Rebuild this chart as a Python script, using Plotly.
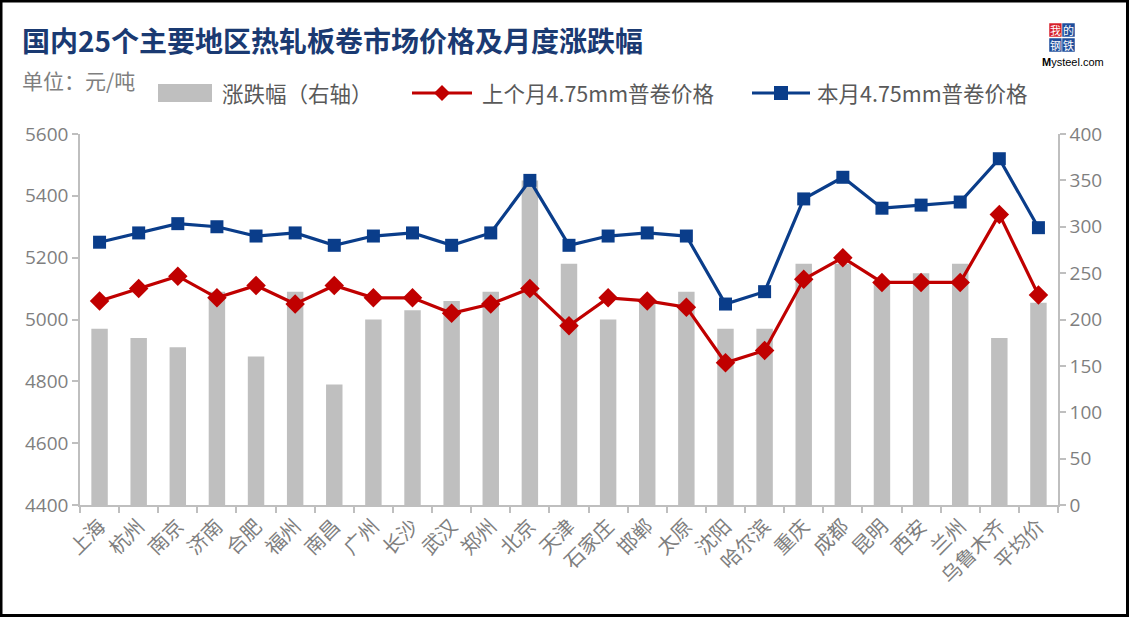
import plotly.graph_objects as go

# ---------------- data ----------------
cities = ["上海", "杭州", "南京", "济南", "合肥", "福州", "南昌", "广州", "长沙", "武汉",
          "郑州", "北京", "天津", "石家庄", "邯郸", "太原", "沈阳", "哈尔滨", "重庆", "成都",
          "昆明", "西安", "兰州", "乌鲁木齐", "平均价"]
last_month = [5060, 5100, 5140, 5070, 5110, 5050, 5110, 5070, 5070, 5020,
              5050, 5100, 4980, 5070, 5060, 5040, 4860, 4900, 5130, 5200,
              5120, 5120, 5120, 5340, 5079]
this_month = [5250, 5280, 5310, 5300, 5270, 5280, 5240, 5270, 5280, 5240,
              5280, 5450, 5240, 5270, 5280, 5270, 5050, 5090, 5390, 5460,
              5360, 5370, 5380, 5520, 5297]
change = [190, 180, 170, 230, 160, 230, 130, 200, 210, 220,
          230, 350, 260, 200, 220, 230, 190, 190, 260, 260,
          240, 250, 260, 180, 218]
left_ticks = [4400, 4600, 4800, 5000, 5200, 5400, 5600]
right_ticks = [0, 50, 100, 150, 200, 250, 300, 350, 400]

# ---------------- styles ----------------
W, H = 1129, 618
ML, MR, MT, MB = 80, 71, 134, 113
PW, PH = W - ML - MR, H - MT - MB
GRAY_TXT = "#7F7F7F"
AXIS = "#BFBFBF"
RED = "#C00000"
BLUE = "#0A3D8A"
BAR = "#BFBFBF"
FONT = "Noto Sans CJK SC"
NUMFONT = "Open Sans"


def px(x):
    return (x - ML) / PW


def py(y):
    return (H - MB - y) / PH


fig = go.Figure()

fig.add_trace(go.Bar(
    x=cities, y=change, yaxis="y", marker=dict(color=BAR, line=dict(width=0)),
    width=0.42, name="涨跌幅（右轴）", showlegend=False))

fig.add_trace(go.Scatter(
    x=cities, y=last_month, yaxis="y2", mode="lines+markers",
    line=dict(color=RED, width=3.2),
    marker=dict(symbol="diamond", size=15, color=RED),
    name="上个月4.75mm普卷价格", showlegend=False))

fig.add_trace(go.Scatter(
    x=cities, y=this_month, yaxis="y2", mode="lines+markers",
    line=dict(color=BLUE, width=3.2),
    marker=dict(symbol="square", size=13, color=BLUE),
    name="本月4.75mm普卷价格", showlegend=False))

fig.update_layout(
    width=W, height=H,
    margin=dict(l=ML, r=MR, t=MT, b=MB, autoexpand=False),
    paper_bgcolor="white", plot_bgcolor="white",
    bargap=0.5,
    xaxis=dict(
        type="category", showgrid=False, showline=True, linecolor=AXIS, linewidth=1.5,
        ticks="outside", tickson="boundaries", ticklen=6, tickcolor=AXIS, tickwidth=1.5,
        tickangle=-45, tickfont=dict(family=FONT, size=20, color=GRAY_TXT),
        range=[-0.5, len(cities) - 0.5], zeroline=False),
    yaxis=dict(
        side="right", range=[0, 400], tickvals=right_ticks, showgrid=False,
        showline=True, linecolor=AXIS, linewidth=1.5, ticks="outside", ticklen=6,
        tickcolor=AXIS, tickwidth=1.5, zeroline=False,
        tickfont=dict(family=NUMFONT, size=19, color=GRAY_TXT)),
    yaxis2=dict(
        overlaying="y", side="left", range=[4400, 5600], tickvals=left_ticks,
        showgrid=False, showline=True, linecolor=AXIS, linewidth=1.5, ticks="outside",
        ticklen=6, tickcolor=AXIS, tickwidth=1.5, zeroline=False,
        tickfont=dict(family=NUMFONT, size=19, color=GRAY_TXT)),
    showlegend=False,
)

shapes = []
annotations = []

# outer border
shapes.append(dict(type="rect", xref="paper", yref="paper",
                   x0=px(1), x1=px(W - 1.5), y0=py(H - 2.5), y1=py(1),
                   line=dict(color="black", width=3), fillcolor="rgba(0,0,0,0)"))

# title
annotations.append(dict(text="<b>国内25个主要地区热轧板卷市场价格及月度涨跌幅</b>",
                        x=px(20), y=py(40), xref="paper", yref="paper",
                        xanchor="left", yanchor="middle", showarrow=False,
                        font=dict(family=FONT, size=28, color="#1A3A72")))
# unit
annotations.append(dict(text="单位：元/吨", x=px(20), y=py(80), xref="paper", yref="paper",
                        xanchor="left", yanchor="middle", showarrow=False,
                        font=dict(family=FONT, size=21, color=GRAY_TXT)))

# legend: bars
shapes.append(dict(type="rect", xref="paper", yref="paper",
                   x0=px(158), x1=px(212), y0=py(102), y1=py(84),
                   fillcolor=BAR, line=dict(width=0)))
annotations.append(dict(text="涨跌幅（右轴）", x=px(220), y=py(93), xref="paper", yref="paper",
                        xanchor="left", yanchor="middle", showarrow=False,
                        font=dict(family=FONT, size=21.5, color="#595959")))
# legend: red line
shapes.append(dict(type="line", xref="paper", yref="paper",
                   x0=px(412), x1=px(472), y0=py(93), y1=py(93),
                   line=dict(color=RED, width=3.2)))
cx, cy, r = 442, 93, 8
shapes.append(dict(type="path", xref="paper", yref="paper",
                   path=f"M {px(cx - r)} {py(cy)} L {px(cx)} {py(cy - r)} L {px(cx + r)} {py(cy)} L {px(cx)} {py(cy + r)} Z",
                   fillcolor=RED, line=dict(width=0)))
annotations.append(dict(text="上个月4.75mm普卷价格", x=px(480), y=py(93), xref="paper", yref="paper",
                        xanchor="left", yanchor="middle", showarrow=False,
                        font=dict(family=FONT, size=21.5, color="#595959")))
# legend: blue line
shapes.append(dict(type="line", xref="paper", yref="paper",
                   x0=px(752), x1=px(810), y0=py(93), y1=py(93),
                   line=dict(color=BLUE, width=3.2)))
cx, s = 781, 7
shapes.append(dict(type="rect", xref="paper", yref="paper",
                   x0=px(cx - s), x1=px(cx + s), y0=py(93 + s), y1=py(93 - s),
                   fillcolor=BLUE, line=dict(width=0)))
annotations.append(dict(text="本月4.75mm普卷价格", x=px(815), y=py(93), xref="paper", yref="paper",
                        xanchor="left", yanchor="middle", showarrow=False,
                        font=dict(family=FONT, size=21.5, color="#595959")))

# logo
cells = [("我", 1049, 23, "#D7202A"), ("的", 1062, 23, "#1F4E9C"),
         ("钢", 1049, 38, "#1F4E9C"), ("铁", 1062, 38, "#1F4E9C")]
for ch, x0, y0, col in cells:
    shapes.append(dict(type="rect", xref="paper", yref="paper",
                       x0=px(x0), x1=px(x0 + 13), y0=py(y0 + 14), y1=py(y0),
                       fillcolor=col, line=dict(color="white", width=0.5)))
    annotations.append(dict(text=ch, x=px(x0 + 6.5), y=py(y0 + 7), xref="paper", yref="paper",
                            xanchor="center", yanchor="middle", showarrow=False,
                            font=dict(family=FONT, size=11, color="white")))
annotations.append(dict(text="<b>M</b>ysteel.com", x=px(1040), y=py(62), xref="paper", yref="paper",
                        xanchor="left", yanchor="middle", showarrow=False,
                        font=dict(family="Liberation Sans", size=11, color="black")))

fig.update_layout(shapes=shapes, annotations=annotations)

fig.write_html("out.html", config={"displayModeBar": False},
               post_script="document.body.style.margin='0px';document.body.style.overflow='hidden';")
